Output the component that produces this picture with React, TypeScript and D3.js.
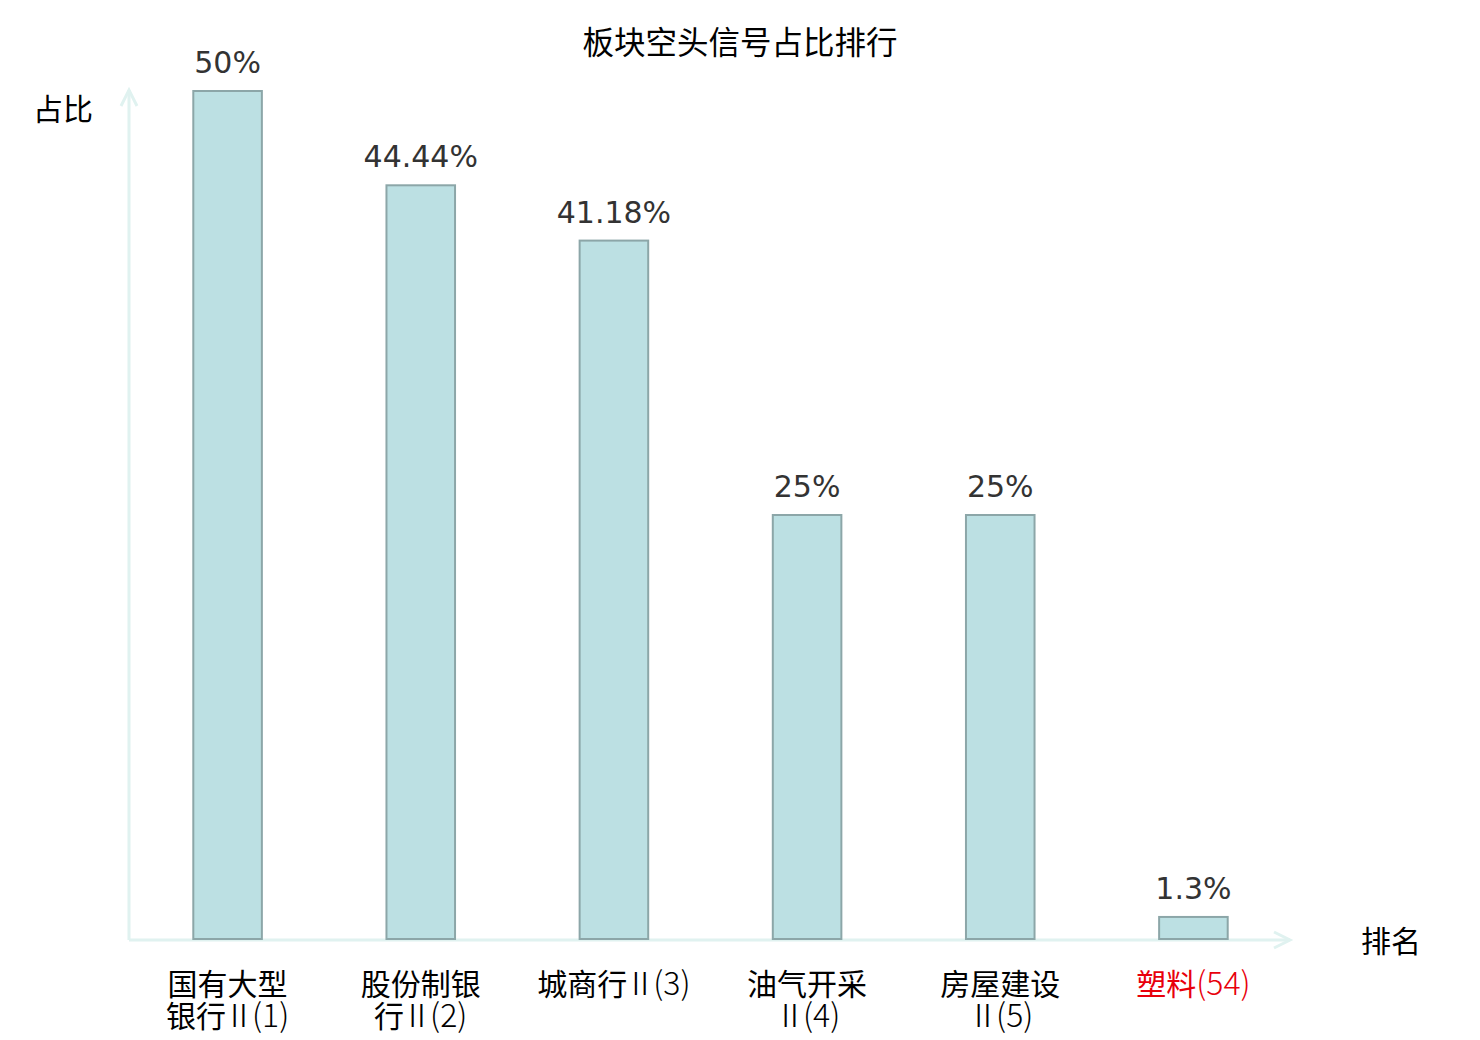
import React, { useEffect, useRef } from 'react';
import * as d3 from 'd3';

const categories = ['国有大型\n银行Ⅱ(1)', '股份制银\n行Ⅱ(2)', '城商行Ⅱ(3)', '油气开采\nⅡ(4)', '房屋建设\nⅡ(5)', '塑料(54)'];
const values = [50, 44.44, 41.18, 25, 25, 1.3];
const valueLabels = ['50%', '44.44%', '41.18%', '25%', '25%', '1.3%'];
const highlighted = [false, false, false, false, false, true];

const W = 1480;
const H = 1040;
const CJK = '"Noto Sans CJK SC", "DejaVu Sans", sans-serif';
const CJK_JP = '"Noto Sans CJK JP", "Noto Sans CJK SC", sans-serif';
const LATIN = '"DejaVu Sans", "Noto Sans CJK SC", sans-serif';

export default function App() {
  const svgRef = useRef<SVGSVGElement>(null);

  useEffect(() => {
    document.body.style.margin = '0';
    if (!svgRef.current) return;
    const svg = d3.select(svgRef.current);
    svg.selectAll('*').remove();

    const x0 = 129;
    const baseY = 939;
    const axisColor = '#e0f2f0';

    const x = d3.scaleBand<string>()
      .domain(categories)
      .range([131, 1290])
      .paddingInner(0.645)
      .paddingOuter(0.3225);

    const y = d3.scaleLinear()
      .domain([0, 50])
      .range([baseY, 91]);

    // title
    svg.append('text')
      .attr('x', 740)
      .attr('y', 54)
      .attr('text-anchor', 'middle')
      .attr('font-family', CJK)
      .attr('font-size', 31.5)
      .attr('fill', '#000')
      .text('板块空头信号占比排行');

    // axes with arrows
    const axes = svg.append('g')
      .attr('stroke', axisColor)
      .attr('stroke-width', 3)
      .attr('fill', 'none');
    axes.append('line').attr('x1', x0).attr('y1', baseY + 1).attr('x2', x0).attr('y2', 90);
    axes.append('path').attr('d', `M${x0 - 8},${106} L${x0},${90} L${x0 + 8},${106}`);
    axes.append('line').attr('x1', x0).attr('y1', baseY + 1).attr('x2', 1290).attr('y2', baseY + 1);
    axes.append('path').attr('d', `M1274,${baseY - 7} L1290,${baseY + 1} L1274,${baseY + 9}`);

    svg.append('text')
      .attr('x', 63)
      .attr('y', 120)
      .attr('text-anchor', 'middle')
      .attr('font-family', CJK)
      .attr('font-size', 30)
      .text('占比');

    svg.append('text')
      .attr('x', 1391)
      .attr('y', 952)
      .attr('text-anchor', 'middle')
      .attr('font-family', CJK)
      .attr('font-size', 30)
      .text('排名');

    // bars
    svg.selectAll('.bar')
      .data(categories)
      .enter()
      .append('rect')
      .attr('class', 'bar')
      .attr('x', d => x(d) as number)
      .attr('y', (_, i) => y(values[i]))
      .attr('width', x.bandwidth())
      .attr('height', (_, i) => baseY - y(values[i]))
      .attr('fill', '#bce0e3')
      .attr('stroke', '#8ca6a8')
      .attr('stroke-width', 2);

    // value labels
    svg.selectAll('.val')
      .data(categories)
      .enter()
      .append('text')
      .attr('class', 'val')
      .attr('x', d => (x(d) as number) + x.bandwidth() / 2)
      .attr('y', (_, i) => y(values[i]) - 18)
      .attr('text-anchor', 'middle')
      .attr('font-family', LATIN)
      .attr('font-size', 30)
      .attr('fill', '#333')
      .text((_, i) => valueLabels[i]);

    // category labels: CJK part regular, the rest thinner and a bit taller
    categories.forEach((c, i) => {
      const cx = (x(c) as number) + x.bandwidth() / 2;
      const t = svg.append('text')
        .attr('x', cx)
        .attr('y', 995)
        .attr('text-anchor', 'middle')
        .attr('font-family', CJK)
        .attr('font-size', 30)
        .attr('fill', highlighted[i] ? '#e8000b' : '#000');
      c.split('\n').forEach((line, j) => {
        const m = line.match(/^([\u4e00-\u9fff]*)(Ⅱ?)(.*)$/) as RegExpMatchArray;
        let first = true;
        const part = () => {
          const s = t.append('tspan');
          if (first) s.attr('x', cx).attr('dy', j === 0 ? 0 : 32);
          first = false;
          return s;
        };
        if (m[1]) part().text(m[1]);
        if (m[2]) {
          part()
            .attr('font-family', CJK_JP)
            .attr('font-weight', 300)
            .attr('font-size', 32)
            .attr('dx', m[1] ? -3 : 0)
            .attr('letter-spacing', -3)
            .text(m[2]);
        }
        if (m[3]) {
          part()
            .attr('font-family', CJK_JP)
            .attr('font-weight', 300)
            .attr('font-size', 32)
            .text(m[3]);
        }
      });
    });
  }, []);

  return <svg ref={svgRef} width={W} height={H} style={{ display: 'block', background: '#fff' }} />;
}
